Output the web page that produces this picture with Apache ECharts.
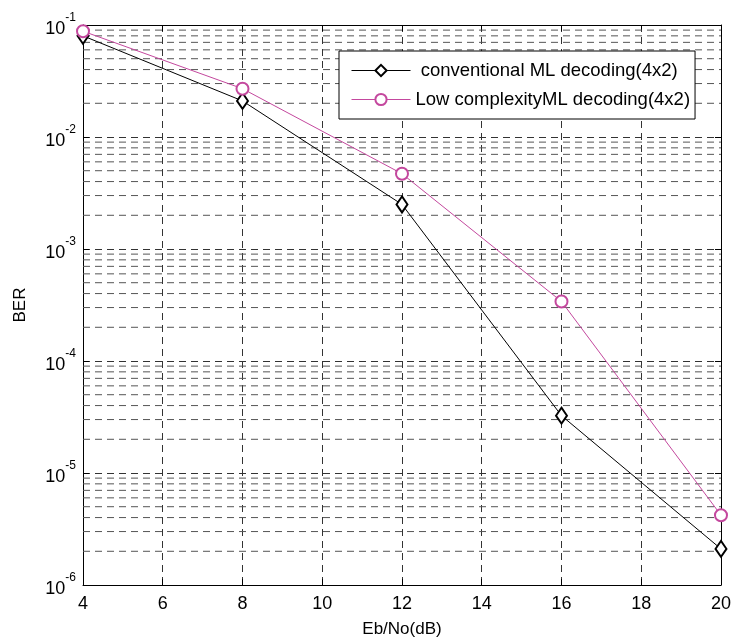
<!DOCTYPE html>
<html>
<head>
<meta charset="utf-8">
<script src="https://cdn.jsdelivr.net/npm/echarts@6/dist/echarts.min.js"></script>
<style>
  html, body { margin: 0; padding: 0; background: #fff; }
  #chart { width: 734px; height: 643px; }
</style>
</head>
<body>
<div id="chart"></div>
<script>
var ebno = [4, 8, 12, 16, 20];
var berConventional = [0.080, 0.021, 0.0025, 0.0000325, 0.0000021];
var berLowComplexity = [0.088, 0.027, 0.0047, 0.00034, 0.0000042];
var decades = [-6, -5, -4, -3, -2];
var minorSteps = [2, 3, 4, 5, 6, 7, 8, 9];

var gridColor = '#333';
var dash = [7, 5];
var font = 'Liberation Sans';

// minor log gridlines (2..9 x 10^k), drawn as plain line series across the x range
var minorSeries = [];
decades.forEach(function (d) {
  minorSteps.forEach(function (m) {
    var v = m * Math.pow(10, d);
    minorSeries.push({
      type: 'line',
      data: [[4, v], [20, v]],
      symbol: 'none',
      silent: true,
      z: 1,
      lineStyle: { color: '#555', type: dash, width: 1 },
      emphasis: { disabled: true }
    });
  });
});

function pairs(xs, ys) {
  return xs.map(function (x, i) { return [x, ys[i]]; });
}

var myChart = echarts.init(document.getElementById('chart'), null, { renderer: 'canvas' });

var option = {
  animation: false,
  backgroundColor: '#fff',
  textStyle: { fontFamily: font },
  grid: { left: 83, right: 11, top: 25, bottom: 56 },
  legend: {
    orient: 'vertical',
    left: 339,
    top: 51,
    padding: [10, 5, 10, 12],
    itemWidth: 59,
    itemHeight: 14,
    itemGap: 10,
    backgroundColor: '#fff',
    borderColor: '#000',
    borderWidth: 1,
    lineStyle: { width: 1 },
    itemStyle: { borderWidth: 1 },
    formatter: function (name) {
      return name.indexOf('conventional') === 0 ? ' ' + name : name;
    },
    textStyle: { fontSize: 18.5, color: '#000', fontFamily: font },
    data: ['conventional ML decoding(4x2)', 'Low complexityML decoding(4x2)']
  },
  xAxis: [{
    type: 'value',
    min: 4,
    max: 20,
    interval: 2,
    name: 'Eb/No(dB)',
    nameLocation: 'middle',
    nameGap: 36,
    nameTextStyle: { fontSize: 17, color: '#000', fontFamily: font },
    axisLine: { lineStyle: { color: '#000', width: 1 } },
    axisTick: { inside: true, length: 6, lineStyle: { color: '#000' } },
    axisLabel: { fontSize: 18, color: '#000', margin: 10, fontFamily: font },
    splitLine: { show: true, lineStyle: { color: gridColor, type: dash, width: 1 } }
  }, {
    type: 'value',
    position: 'top',
    min: 4,
    max: 20,
    interval: 2,
    axisLine: { show: true, lineStyle: { color: '#000', width: 1 } },
    axisTick: { inside: true, length: 6, lineStyle: { color: '#000' } },
    axisLabel: { show: false },
    splitLine: { show: false }
  }],
  yAxis: [{
    type: 'log',
    logBase: 10,
    min: 1e-6,
    max: 1e-1,
    interval: 1,
    name: 'BER',
    nameLocation: 'middle',
    nameGap: 54,
    nameTextStyle: { fontSize: 17, color: '#000', fontFamily: font },
    axisLine: { show: true, lineStyle: { color: '#000', width: 1 } },
    axisTick: { inside: true, length: 6, lineStyle: { color: '#000' } },
    axisLabel: {
      margin: 7,
      formatter: function (v) {
        return '{b|10}{s|' + Math.round(Math.log10(v)) + '}';
      },
      rich: {
        b: { fontSize: 18, color: '#000', fontFamily: font, padding: [8, 0, 0, 0] },
        s: { fontSize: 12, color: '#000', fontFamily: font, verticalAlign: 'top', padding: [0, 0, 12, 0] }
      }
    },
    splitLine: { show: true, lineStyle: { color: gridColor, type: dash, width: 1 } }
  }, {
    type: 'log',
    logBase: 10,
    position: 'right',
    min: 1e-6,
    max: 1e-1,
    interval: 1,
    axisLine: { show: true, lineStyle: { color: '#000', width: 1 } },
    axisTick: { inside: true, length: 6, lineStyle: { color: '#000' } },
    axisLabel: { show: false },
    splitLine: { show: false }
  }],
  series: minorSeries.concat([{
    name: 'conventional ML decoding(4x2)',
    type: 'line',
    data: pairs(ebno, berConventional),
    symbol: 'emptyDiamond',
    symbolSize: [11, 16],
    z: 5,
    lineStyle: { color: '#000', width: 1 },
    itemStyle: { color: '#000', borderColor: '#000', borderWidth: 1 }
  }, {
    name: 'Low complexityML decoding(4x2)',
    type: 'line',
    data: pairs(ebno, berLowComplexity),
    symbol: 'emptyCircle',
    symbolSize: 12,
    z: 5,
    lineStyle: { color: '#c4489e', width: 1 },
    itemStyle: { color: '#c4489e', borderColor: '#c4489e', borderWidth: 1 }
  }])
};

myChart.setOption(option);
</script>
</body>
</html>
